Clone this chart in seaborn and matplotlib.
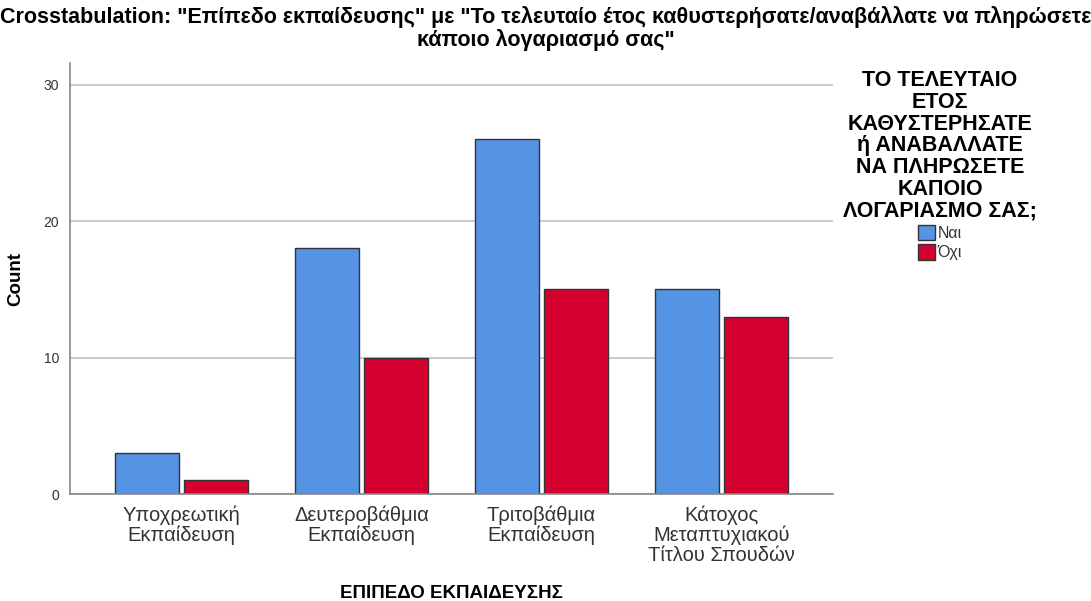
import pandas as pd
import numpy as np
import seaborn as sns
import matplotlib.pyplot as plt

# Data
education = ["Υποχρεωτική\nΕκπαίδευση", "Δευτεροβάθμια\nΕκπαίδευση",
             "Τριτοβάθμια\nΕκπαίδευση", "Κάτοχος\nΜεταπτυχιακού\nΤίτλου Σπουδών"]
answers = ["Ναι", "Όχι"]
yes_counts = [3, 18, 26, 15]
no_counts = [1, 10, 15, 13]

df = pd.DataFrame({
    "education": education * 2,
    "answer": [answers[0]] * 4 + [answers[1]] * 4,
    "count": yes_counts + no_counts,
})

sns.set_style("white")
plt.rcParams['font.family'] = ['Liberation Sans', 'DejaVu Sans']
plt.rcParams['text.color'] = 'black'

fig = plt.figure(figsize=(10.91, 6.01), dpi=100)
ax = fig.add_axes([70 / 1091, 1 - 494 / 601, (833 - 70) / 1091, (494 - 63) / 601])

palette = {"Ναι": "#5594e3", "Όχι": "#d40030"}
sns.barplot(data=df, x="education", y="count", hue="answer", palette=palette,
            order=education, hue_order=answers, width=0.77, gap=0.08,
            edgecolor="#333333", linewidth=1.0, saturation=1, ax=ax)

ax.set_xlim(-0.62, 3.62)
ax.set_ylim(0, 31.6)
ax.set_yticks([0, 10, 20, 30])
ax.yaxis.grid(True, color="#cccccc", linewidth=1.5)
ax.set_axisbelow(True)
for s in ["top", "right"]:
    ax.spines[s].set_visible(False)
for s in ["left", "bottom"]:
    ax.spines[s].set_color("#888888")
    ax.spines[s].set_linewidth(1.2)
ax.tick_params(axis="x", length=0, labelsize=14.5, labelcolor="#333333", pad=8)
ax.tick_params(axis="y", length=0, labelsize=10, labelcolor="#333333", pad=8)
for t in ax.get_xticklabels():
    t.set_linespacing(1.05)

ax.set_xlabel("")
fig.text(451 / 1091, 1 - 593 / 601, "ΕΠΙΠΕΔΟ ΕΚΠΑΙΔΕΥΣΗΣ", ha="center", va="center",
         fontsize=13.5, fontweight="bold")
ax.set_ylabel("Count", fontsize=13.5, fontweight="bold", labelpad=14, color="black")

fig.text(0.5, 0.99, "Crosstabulation: \"Επίπεδο εκπαίδευσης\" με \"Το τελευταίο έτος καθυστερήσατε/αναβάλλατε να πληρώσετε\nκάποιο λογαριασμό σας\"",
         ha="center", va="top", fontsize=15.5, fontweight="bold", linespacing=1.05)

leg = ax.legend(title="ΤΟ ΤΕΛΕΥΤΑΙΟ\nΕΤΟΣ\nΚΑΘΥΣΤΕΡΗΣΑΤΕ\nή ΑΝΑΒΑΛΛΑΤΕ\nΝΑ ΠΛΗΡΩΣΕΤΕ\nΚΑΠΟΙΟ\nΛΟΓΑΡΙΑΣΜΟ ΣΑΣ;",
                loc="upper center", bbox_to_anchor=(940 / 1091, 1 - 70 / 601),
                bbox_transform=fig.transFigure, frameon=False, fontsize=11.5,
                handlelength=1.1, handleheight=1.1, handletextpad=0.15,
                labelspacing=0.2, borderaxespad=0, borderpad=0)
leg.get_title().set_fontweight("bold")
leg.get_title().set_fontsize(15.5)
leg.get_title().set_multialignment("center")
leg.get_title().set_linespacing(1.05)
for t in leg.get_texts():
    t.set_color("#333333")

fig.savefig("out.png", dpi=100)
